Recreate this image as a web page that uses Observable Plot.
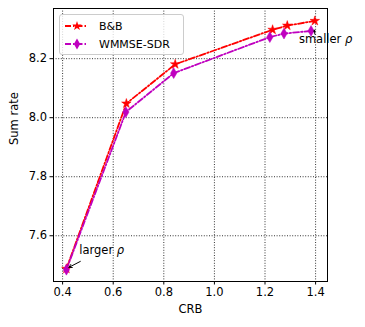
<!DOCTYPE html>
<html>
<head>
<meta charset="utf-8">
<script src="https://cdn.jsdelivr.net/npm/d3@7"></script>
<script src="https://cdn.jsdelivr.net/npm/@observablehq/plot@0.6"></script>
<style>
  body { margin: 0; background: #fff; }
  #wrap { position: relative; width: 365px; height: 327px; font-family: "DejaVu Sans", sans-serif; }
  #legend { position: absolute; left: 59px; top: 14px; width: 123px; height: 39px;
    border: 1px solid #ccc; border-radius: 3px; background: rgba(255,255,255,0.8); }
</style>
</head>
<body>
<div id="wrap"></div>
<script>
const seriesNames = ["B&B", "WMMSE-SDR"];
const seriesColors = ["#ff0000", "#bf00bf"];
const bbX = [0.415, 0.652, 0.845, 1.230, 1.288, 1.397];
const bbY = [7.488, 8.048, 8.181, 8.298, 8.312, 8.328];
const wmX = [0.415, 0.650, 0.839, 1.219, 1.275, 1.382];
const wmY = [7.485, 8.019, 8.151, 8.273, 8.285, 8.294];
const xTicks = [0.4, 0.6, 0.8, 1.0, 1.2, 1.4];
const yTicks = [7.6, 7.8, 8.0, 8.2];
const annText = ["smaller ρ", "larger ρ"];
const annTextX = [1.334, 0.466];
const annTextY = [8.266, 7.552];
const arrowFromX = [1.397, 0.470];
const arrowFromY = [8.283, 7.513];
const arrowToX = [1.395, 0.425];
const arrowToY = [8.297, 7.493];

const bb = bbX.map((x, i) => ({x, y: bbY[i]}));
const wm = wmX.map((x, i) => ({x, y: wmY[i]}));
const ann = annText.map((t, i) => ({t, x: annTextX[i], y: annTextY[i],
  x1: arrowFromX[i], y1: arrowFromY[i], x2: arrowToX[i], y2: arrowToY[i]}));

const fs = 11.5;
const dash = "6,2,1.5,2";
const chart = Plot.plot({
  width: 365, height: 327,
  marginLeft: 53, marginRight: 38, marginTop: 8, marginBottom: 46,
  style: {fontFamily: "DejaVu Sans, sans-serif", fontSize: fs + "px", color: "#000", background: "#fff"},
  x: {domain: [0.364, 1.447]},
  y: {domain: [7.445, 8.37]},
  marks: [
    Plot.gridX(xTicks, {stroke: "#000", strokeOpacity: 1, strokeWidth: 0.8, strokeDasharray: "1,1.6"}),
    Plot.gridY(yTicks, {stroke: "#000", strokeOpacity: 1, strokeWidth: 0.8, strokeDasharray: "1,1.6"}),
    Plot.axisX(xTicks, {tickSize: 3.5, tickPadding: 3, tickFormat: d => d.toFixed(1), label: null, fontSize: fs}),
    Plot.axisY(yTicks, {tickSize: 3.5, tickPadding: 3, tickFormat: d => d.toFixed(1), label: null, fontSize: fs}),
    Plot.text(["CRB"], {frameAnchor: "bottom", dy: 31, text: d => d, fontSize: fs}),
    Plot.text(["Sum rate"], {frameAnchor: "left", dx: -39, rotate: -90, text: d => d, fontSize: fs}),
    Plot.line(bb, {x: "x", y: "y", stroke: seriesColors[0], strokeWidth: 1.8, strokeDasharray: dash}),
    Plot.line(wm, {x: "x", y: "y", stroke: seriesColors[1], strokeWidth: 1.8, strokeDasharray: dash}),
    Plot.dot(bb, {x: "x", y: "y", symbol: "star", r: 3, fill: seriesColors[0], stroke: seriesColors[0], strokeWidth: 0.5}),
    Plot.dot(wm, {x: "x", y: "y", symbol: "diamond", r: 3.3, fill: seriesColors[1], stroke: seriesColors[1], strokeWidth: 0.5}),
    Plot.arrow(ann, {x1: "x1", y1: "y1", x2: "x2", y2: "y2", stroke: "#000", strokeWidth: 1, headLength: 5}),
    Plot.text(ann, {x: "x", y: "y", text: "t", textAnchor: "start", fontSize: fs}),
    Plot.frame({stroke: "#000", strokeWidth: 1})
  ]
});
// italicize the Greek rho as in math text
chart.querySelectorAll("text").forEach(t => {
  if (t.textContent.includes("ρ")) {
    const parts = t.textContent.split("ρ");
    t.textContent = parts[0];
    const ts = document.createElementNS("http://www.w3.org/2000/svg", "tspan");
    ts.setAttribute("font-style", "italic");
    ts.textContent = "ρ";
    t.appendChild(ts);
  }
});
const wrap = document.getElementById("wrap");
wrap.appendChild(chart);

// Legend inside plot area
const leg = document.createElement("div");
leg.id = "legend";
const ns = "http://www.w3.org/2000/svg";
const lsvg = document.createElementNS(ns, "svg");
lsvg.setAttribute("width", 123); lsvg.setAttribute("height", 39);
const symbols = [d3.symbolStar, d3.symbolDiamond];
const sizes = [Math.PI * 9, Math.PI * 3.3 * 3.3];
seriesNames.forEach((name, i) => {
  const y = 11 + i * 18;
  const line = document.createElementNS(ns, "line");
  line.setAttribute("x1", 5); line.setAttribute("x2", 28);
  line.setAttribute("y1", y); line.setAttribute("y2", y);
  line.setAttribute("stroke", seriesColors[i]); line.setAttribute("stroke-width", 1.8);
  line.setAttribute("stroke-dasharray", dash);
  lsvg.appendChild(line);
  const p = document.createElementNS(ns, "path");
  p.setAttribute("d", d3.symbol(symbols[i], sizes[i])());
  p.setAttribute("transform", `translate(17,${y})`);
  p.setAttribute("fill", seriesColors[i]);
  lsvg.appendChild(p);
  const t = document.createElementNS(ns, "text");
  t.setAttribute("x", 39); t.setAttribute("y", y);
  t.setAttribute("dy", "0.35em");
  t.setAttribute("font-size", "11px");
  t.setAttribute("font-family", "DejaVu Sans, sans-serif");
  t.textContent = name;
  lsvg.appendChild(t);
});
leg.appendChild(lsvg);
wrap.appendChild(leg);
</script>
</body>
</html>
